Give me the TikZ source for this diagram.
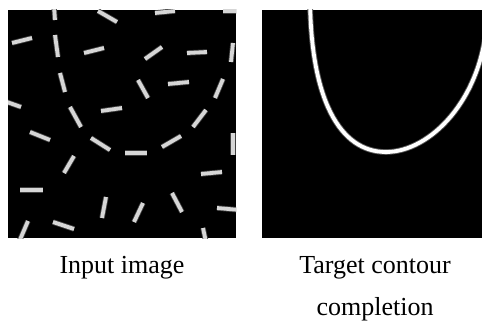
\documentclass[tikz,border=0pt]{standalone}
\usepackage{fontspec}
\setmainfont{Liberation Serif}
\begin{document}
\begin{tikzpicture}[x=1pt,y=-1pt,
  panel/.style={fill=black},
  bar/.style={line width=3.8pt, draw=white!84!black,
    preaction={draw=black!75, line width=5.4pt}},
  contour/.style={line width=3.8pt, draw=white, line cap=round,
    preaction={draw=black!65, line width=5.6pt}},
  lbl/.style={font=\fontsize{26}{32}\selectfont, inner sep=0pt, anchor=base}]
\useasboundingbox (0,0) rectangle (482,321);

% left panel: scattered oriented line segments
\fill[panel] (8,10) rectangle (236,238);
\begin{scope}
  \clip (8,10) rectangle (236,238);
  \foreach \xa/\ya/\xb/\yb in {
    54/6/55/20, 98/11/117/22, 155/13/175/11, 223/11/240/11,
    12/43/32/38, 55/35/58/57, 84/53/104/48, 145/59/162/47,
    187/53/207/52, 233/43/231/62, 60/73/65/92, 138/80/148/98,
    168/84/189/82, 223/79/215/98, 4/101/21/107, 70/107/81/127,
    101/111/122/108, 206/110/193/127, 30/132/50/140, 91/138/110/150,
    125/153/147/153, 162/147/181/136, 233/133/233/155, 74/156/64/173,
    201/174/222/172, 20/190/43/190, 106/197/102/218, 172/193/182/212,
    143/203/134/222, 217/208/240/210, 28/221/19/242, 53/222/74/229,
    203/228/206/242}
    \draw[bar] (\xa,\ya) -- (\xb,\yb);
\end{scope}

% right panel: completed contour
\fill[panel] (262,10) rectangle (482,238);
\begin{scope}
  \clip (262,10) rectangle (482,238);
  \coordinate (ctop) at (310,-5);
  \coordinate (cbot) at (386,152);
  \coordinate (cend) at (487,20);
  \draw[contour] (ctop) .. controls (310,100) and (340,152) .. (cbot)
                        .. controls (430,152) and (482,100) .. (cend);
\end{scope}

% captions
\node[lbl] (capin) at (122,273) {Input image};
\node[lbl] (captgt) at (375,273) {Target contour};
\node[lbl] (captgt2) at (375,315) {completion};
\end{tikzpicture}
\end{document}
